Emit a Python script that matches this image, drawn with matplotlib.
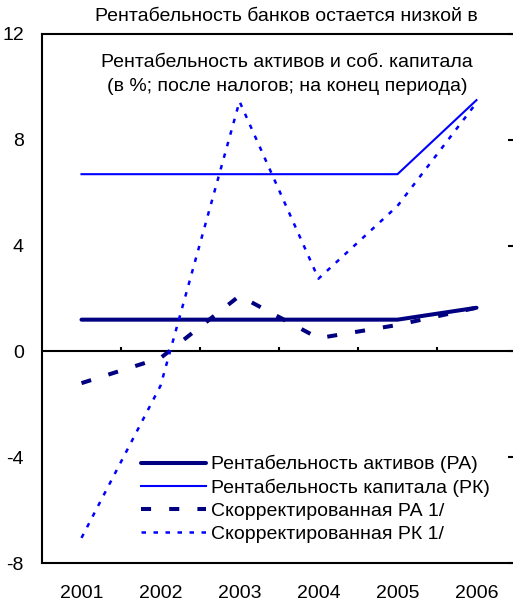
import matplotlib
matplotlib.use('Agg')
import matplotlib.pyplot as plt

plt.rcParams['font.family'] = ['Liberation Sans', 'DejaVu Sans']
plt.rcParams['axes.unicode_minus'] = False

# data
years = ['2001', '2002', '2003', '2004', '2005', '2006']
roa = [1.2, 1.2, 1.2, 1.2, 1.2, 1.65]
roe = [6.7, 6.7, 6.7, 6.7, 6.7, 9.5]
roa_adj = [-1.2, -0.25, 2.1, 0.5, 1.0, 1.65]
roe_adj = [-7.05, -1.3, 9.45, 2.75, 5.5, 9.4]

labels = ['Рентабельность активов (РА)',
          'Рентабельность капитала (РК)',
          'Скорректированная РА 1/',
          'Скорректированная РК 1/']

NAVY = '#000080'
BLUE = '#0000FF'
FS = 14

fig = plt.figure(figsize=(5.13, 6.05), dpi=100)
ax = fig.add_axes([42 / 513, 1 - 563 / 605, 474 / 513, 529 / 605])

x = list(range(1, len(years) + 1))
ax.plot(x, roa, color=NAVY, lw=2.9, solid_capstyle='round', label=labels[0], zorder=4)
ax.plot(x, roe, color=BLUE, lw=1.5, label=labels[1], zorder=3)
ax.plot(x, roa_adj, color=NAVY, lw=2.9, dashes=(2.5, 4.5), label=labels[2], zorder=5)
ax.plot(x, roe_adj, color=BLUE, lw=1.8, dashes=(1.8, 3.0), label=labels[3], zorder=5)

ax.set_xlim(0.5, len(years) + 0.5)
ax.set_ylim(-8, 12)
ax.set_yticks([-8, -4, 0, 4, 8, 12])
ax.set_xticks(x)
ax.set_xticklabels(years)

# zero line acting as category axis
ax.axhline(0, color='black', lw=1.5, zorder=2)
ax.vlines([i + 0.5 for i in x[:-1]], 0, 0.17, color='black', lw=1.5, zorder=2)

for s in ax.spines.values():
    s.set_linewidth(1.5)
ax.tick_params(axis='x', length=0, pad=16, labelsize=FS)
ax.tick_params(axis='y', left=False, right=True, direction='in', length=6,
               width=1.5, labelsize=FS, pad=13)

fig.text(286 / 513, 1 - 21 / 605, 'Рентабельность банков остается низкой в',
         ha='center', va='baseline', fontsize=FS)
fig.text(287 / 513, 1 - 67 / 605, 'Рентабельность активов и соб. капитала',
         ha='center', va='baseline', fontsize=FS)
fig.text(287 / 513, 1 - 91 / 605, '(в %; после налогов; на конец периода)',
         ha='center', va='baseline', fontsize=FS)

leg = ax.legend(loc='upper left', bbox_to_anchor=(141 / 513, 1 - 455 / 605),
                bbox_transform=fig.transFigure, frameon=False, fontsize=FS,
                handlelength=3.35, handletextpad=0.25, labelspacing=0.27,
                borderpad=0, borderaxespad=0)

fig.savefig('out.png', dpi=100)
